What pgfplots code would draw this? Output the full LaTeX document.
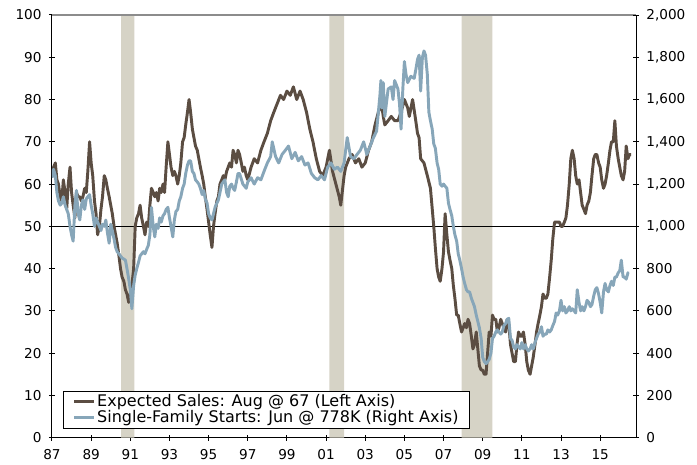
\documentclass[border=0pt]{standalone}
\usepackage{pgfplots}
\pgfplotsset{compat=1.18}
\usepackage{fontspec}
\setmainfont{DejaVu Sans}
\definecolor{brownline}{HTML}{5B4D42}
\definecolor{blueline}{HTML}{87A6B9}
\definecolor{recess}{HTML}{D6D3C6}
\newcommand{\chartfont}{\fontsize{10.2}{12}\selectfont}
\newcommand{\legfont}{\fontsize{12}{13}\selectfont}

\pgfplotstableread{
x y
1987.00 62
1987.08 64
1987.17 65
1987.25 61
1987.33 60
1987.42 57
1987.50 56
1987.58 61
1987.67 58
1987.75 54
1987.83 60
1987.92 64
1988.00 58
1988.08 55
1988.17 52
1988.25 58
1988.33 57
1988.42 57
1988.50 56
1988.58 57
1988.67 59
1988.75 58
1988.83 63
1988.92 70
1989.00 65
1989.08 62
1989.17 56
1989.25 53
1989.33 48
1989.42 50
1989.50 54
1989.58 57
1989.67 62
1989.75 61
1989.83 59
1989.92 57
1990.00 55
1990.08 53
1990.17 50
1990.25 48
1990.33 46
1990.42 43
1990.50 40
1990.58 38
1990.67 37
1990.75 35
1990.83 34
1990.92 32
1991.00 34
1991.08 36
1991.17 40
1991.25 50
1991.33 52
1991.42 53
1991.50 55
1991.58 52
1991.67 50
1991.75 48
1991.83 51
1991.92 50
1992.00 55
1992.08 59
1992.17 58
1992.25 57
1992.33 58
1992.42 56
1992.50 59
1992.58 58
1992.67 60
1992.75 58
1992.83 64
1992.92 70
1993.00 67
1993.08 64
1993.17 62
1993.25 63
1993.33 62
1993.42 60
1993.50 62
1993.58 65
1993.67 70
1993.75 71
1993.83 74
1993.92 77
1994.00 80
1994.08 77
1994.17 73
1994.25 71
1994.33 69
1994.42 68
1994.50 66
1994.58 64
1994.67 62
1994.75 60
1994.83 57
1994.92 54
1995.00 51
1995.08 48
1995.17 45
1995.25 50
1995.33 53
1995.42 56
1995.50 57
1995.58 60
1995.67 61
1995.75 62
1995.83 61
1995.92 63
1996.00 64
1996.08 65
1996.17 64
1996.25 68
1996.33 67
1996.42 65
1996.50 68
1996.58 67
1996.67 65
1996.75 63
1996.83 64
1996.92 62
1997.00 61
1997.17 64
1997.33 66
1997.50 65
1997.67 68
1997.83 70
1998.00 72
1998.17 75
1998.33 77
1998.50 79
1998.67 81
1998.83 80
1999.00 82
1999.17 81
1999.33 83
1999.50 80
1999.67 82
1999.83 80
2000.00 77
2000.17 73
2000.33 70
2000.50 66
2000.67 63
2000.83 62
2001.00 64
2001.17 68
2001.33 63
2001.50 60
2001.67 57
2001.75 55
2001.92 62
2002.00 64
2002.17 66
2002.33 67
2002.50 65
2002.67 66
2002.83 64
2003.00 65
2003.17 68
2003.33 70
2003.50 74
2003.67 77
2003.83 79
2003.92 76
2004.00 74
2004.17 75
2004.33 76
2004.50 75
2004.67 75
2004.83 77
2005.00 80
2005.17 78
2005.25 76
2005.42 80
2005.58 75
2005.67 72
2005.75 71
2005.83 66
2006.00 65
2006.17 62
2006.33 59
2006.50 50
2006.58 45
2006.67 40
2006.75 38
2006.83 37
2006.92 40
2007.00 44
2007.08 53
2007.17 48
2007.25 44
2007.33 42
2007.42 40
2007.50 36
2007.58 33
2007.67 29
2007.75 29
2007.83 27
2007.92 25
2008.00 26
2008.08 27
2008.17 26
2008.25 28
2008.33 27
2008.42 24
2008.50 21
2008.58 22
2008.67 25
2008.75 21
2008.83 17
2008.92 16
2009.00 16
2009.08 15
2009.17 15
2009.25 20
2009.33 25
2009.42 24
2009.50 29
2009.58 28
2009.67 28
2009.75 25
2009.83 26
2009.92 28
2010.00 27
2010.08 26
2010.17 25
2010.25 28
2010.33 27
2010.42 22
2010.50 20
2010.58 18
2010.67 18
2010.75 22
2010.83 25
2010.92 24
2011.00 24
2011.08 25
2011.17 22
2011.25 18
2011.33 16
2011.42 15
2011.50 17
2011.58 19
2011.67 22
2011.75 25
2011.83 27
2011.92 29
2012.00 31
2012.08 34
2012.17 33
2012.25 33
2012.33 34
2012.42 38
2012.50 42
2012.58 47
2012.67 51
2012.75 51
2012.83 51
2012.92 51
2013.00 50
2013.08 50
2013.17 51
2013.25 52
2013.33 55
2013.42 60
2013.50 66
2013.58 68
2013.67 66
2013.75 62
2013.83 60
2013.92 61
2014.00 58
2014.08 55
2014.17 54
2014.25 53
2014.33 55
2014.42 56
2014.50 58
2014.58 62
2014.67 66
2014.75 67
2014.83 67
2014.92 65
2015.00 64
2015.08 61
2015.17 59
2015.25 60
2015.33 62
2015.42 65
2015.50 68
2015.58 70
2015.67 70
2015.75 75
2015.83 69
2015.92 66
2016.00 64
2016.08 62
2016.17 61
2016.25 63
2016.33 69
2016.42 66
2016.50 67
2016.58 67
}\salesdata

\pgfplotstableread{
x y
1987.00 1230
1987.08 1270
1987.17 1240
1987.25 1160
1987.33 1120
1987.42 1100
1987.50 1110
1987.58 1140
1987.67 1100
1987.75 1080
1987.83 1060
1987.92 1000
1988.00 960
1988.08 930
1988.17 1100
1988.25 1170
1988.33 1060
1988.42 1030
1988.50 1100
1988.58 1125
1988.67 1080
1988.75 1130
1988.83 1140
1988.92 1150
1989.00 1100
1989.08 1060
1989.17 1000
1989.25 1040
1989.33 1020
1989.42 1000
1989.50 980
1989.58 1010
1989.67 1000
1989.75 1030
1989.83 970
1989.92 920
1990.00 1010
1990.08 980
1990.17 940
1990.25 900
1990.33 880
1990.42 870
1990.50 860
1990.58 850
1990.67 845
1990.75 840
1990.83 800
1990.92 750
1991.00 700
1991.08 610
1991.17 720
1991.25 770
1991.33 800
1991.42 830
1991.50 860
1991.58 870
1991.67 880
1991.75 870
1991.83 890
1991.92 910
1992.00 960
1992.08 1090
1992.17 1000
1992.25 950
1992.33 1010
1992.42 990
1992.50 1040
1992.58 1020
1992.67 1050
1992.75 1060
1992.83 1080
1992.92 1090
1993.00 1040
1993.08 1000
1993.17 950
1993.25 1030
1993.33 1070
1993.42 1080
1993.50 1120
1993.58 1140
1993.67 1180
1993.75 1200
1993.83 1250
1993.92 1290
1994.00 1310
1994.08 1310
1994.17 1260
1994.25 1250
1994.33 1220
1994.42 1210
1994.50 1200
1994.58 1180
1994.67 1150
1994.75 1170
1994.83 1130
1994.92 1110
1995.00 1060
1995.08 1040
1995.17 1030
1995.25 1060
1995.33 1090
1995.42 1110
1995.50 1125
1995.58 1160
1995.67 1200
1995.75 1210
1995.83 1220
1995.92 1160
1996.00 1140
1996.08 1190
1996.17 1200
1996.25 1180
1996.33 1170
1996.42 1210
1996.50 1250
1996.58 1250
1996.75 1200
1996.92 1180
1997.00 1210
1997.17 1230
1997.33 1200
1997.50 1230
1997.67 1220
1997.83 1260
1998.00 1300
1998.17 1330
1998.25 1400
1998.42 1330
1998.58 1300
1998.75 1340
1998.92 1360
1999.08 1380
1999.25 1320
1999.42 1350
1999.58 1310
1999.75 1330
1999.92 1290
2000.08 1300
2000.25 1250
2000.42 1230
2000.58 1220
2000.75 1240
2000.92 1220
2001.08 1280
2001.25 1300
2001.42 1270
2001.58 1280
2001.75 1260
2001.92 1300
2002.08 1420
2002.25 1330
2002.42 1320
2002.58 1340
2002.75 1360
2002.92 1400
2003.08 1340
2003.25 1380
2003.42 1420
2003.58 1450
2003.75 1620
2003.80 1690
2003.85 1560
2003.92 1680
2004.00 1520
2004.17 1650
2004.33 1660
2004.42 1600
2004.50 1690
2004.67 1650
2004.75 1580
2004.83 1460
2004.92 1650
2005.00 1780
2005.08 1720
2005.17 1680
2005.33 1710
2005.50 1700
2005.58 1740
2005.67 1790
2005.75 1810
2005.83 1640
2005.92 1800
2006.00 1830
2006.08 1810
2006.17 1720
2006.25 1540
2006.33 1500
2006.42 1460
2006.50 1390
2006.58 1370
2006.67 1300
2006.75 1270
2006.83 1200
2006.92 1190
2007.00 1200
2007.08 1190
2007.17 1180
2007.25 1110
2007.33 1080
2007.42 1050
2007.50 1000
2007.58 960
2007.67 930
2007.75 870
2007.83 840
2007.92 800
2008.00 760
2008.08 730
2008.17 700
2008.25 690
2008.33 690
2008.42 660
2008.50 640
2008.58 620
2008.67 580
2008.75 550
2008.83 520
2008.92 470
2009.00 380
2009.08 360
2009.17 350
2009.25 360
2009.33 370
2009.42 400
2009.50 470
2009.58 480
2009.67 500
2009.75 510
2009.83 500
2009.92 490
2010.00 500
2010.08 530
2010.17 540
2010.25 560
2010.33 565
2010.42 470
2010.50 460
2010.58 430
2010.67 420
2010.75 440
2010.83 430
2010.92 420
2011.00 450
2011.08 420
2011.17 440
2011.25 420
2011.33 410
2011.42 420
2011.50 440
2011.58 420
2011.67 450
2011.75 470
2011.83 490
2011.92 500
2012.00 525
2012.08 480
2012.17 490
2012.25 490
2012.33 510
2012.42 500
2012.50 510
2012.58 530
2012.67 550
2012.75 590
2012.83 580
2012.92 600
2013.00 650
2013.08 600
2013.17 620
2013.25 590
2013.33 600
2013.42 620
2013.50 600
2013.58 610
2013.67 600
2013.75 590
2013.83 700
2013.92 640
2014.00 600
2014.08 620
2014.17 600
2014.25 620
2014.33 650
2014.42 640
2014.50 620
2014.58 630
2014.67 670
2014.75 700
2014.83 710
2014.92 680
2015.00 640
2015.08 590
2015.17 690
2015.25 730
2015.33 700
2015.42 690
2015.50 720
2015.58 740
2015.67 720
2015.75 760
2015.83 760
2015.92 780
2016.00 790
2016.08 840
2016.17 760
2016.25 760
2016.33 750
2016.42 780
2016.45 778
}\startsdata

\begin{document}
\chartfont
\begin{tikzpicture}
\pgfplotsset{
  common/.style={
    scale only axis, width=438pt, height=317pt,
    xmin=1987, xmax=2016.83,
    ymin=0,
    tick align=center,
    major tick length=4.5pt,
    tick style={black, line width=0.75pt},
    every tick label/.append style={font=\chartfont},
    /pgf/number format/assume math mode=true,
  }
}
\begin{axis}[common, name=main,
  ymax=100,
  axis x line*=bottom, axis y line*=left,
  axis line style={black, line width=0.75pt, -},
  xtick={1987,1989,...,2015},
  xticklabels={87,89,91,93,95,97,99,01,03,05,07,09,11,13,15},
  ytick={0,10,...,100},
  xticklabel style={yshift=-3pt},
  yticklabel style={xshift=-2pt},
  legend style={at={(rel axis cs:0.019,0.021)}, anchor=south west,
    draw=black, line width=0.75pt, fill=white, font=\legfont,
    inner xsep=7pt, inner ysep=0.5pt, row sep=-2.5pt,
    nodes={inner xsep=1pt}},
  legend cell align=left,
  legend image code/.code={\draw[#1, line width=2.2pt] (0pt,0pt) -- (15pt,0pt);},
]
\addplot[fill=recess, draw=none, forget plot] coordinates {(1990.53,0) (1990.53,100) (1991.21,100) (1991.21,0)} \closedcycle;
\addplot[fill=recess, draw=none, forget plot] coordinates {(2001.17,0) (2001.17,100) (2001.92,100) (2001.92,0)} \closedcycle;
\addplot[fill=recess, draw=none, forget plot] coordinates {(2007.92,0) (2007.92,100) (2009.50,100) (2009.50,0)} \closedcycle;
\addplot[black, line width=0.75pt, forget plot] coordinates {(1987,50) (2016.83,50)};
\addplot[brownline, line width=2.2pt, line join=round] table[x=x, y=y] {\salesdata};
\addlegendentry{Expected Sales: Aug @ 67 (Left Axis)}
\addlegendimage{blueline, line width=2.2pt}
\addlegendentry{Single-Family Starts: Jun @ 778K (Right Axis)}
\draw[gray!90, line width=1.5pt] (rel axis cs:0,1) -- (rel axis cs:1,1);
\node[anchor=base, font=\chartfont] at ([yshift=8.25pt]rel axis cs:0.5,1) {Diffusion Index, Thousands, SAAR};
\end{axis}
\begin{axis}[common,
  ymax=2000,
  axis x line=none, axis y line*=right,
  axis line style={black, line width=0.75pt, -},
  ytick={0,200,...,2000},
  yticklabel style={xshift=2pt},
  /pgf/number format/1000 sep={,},
]
\addplot[blueline, line width=2.2pt, line join=round] table[x=x, y=y] {\startsdata};
\end{axis}
\pgfresetboundingbox
\path ([xshift=-39pt,yshift=-20.48pt]main.south west) rectangle ([xshift=45.75pt,yshift=11.25pt]main.north east);
\end{tikzpicture}
\end{document}
